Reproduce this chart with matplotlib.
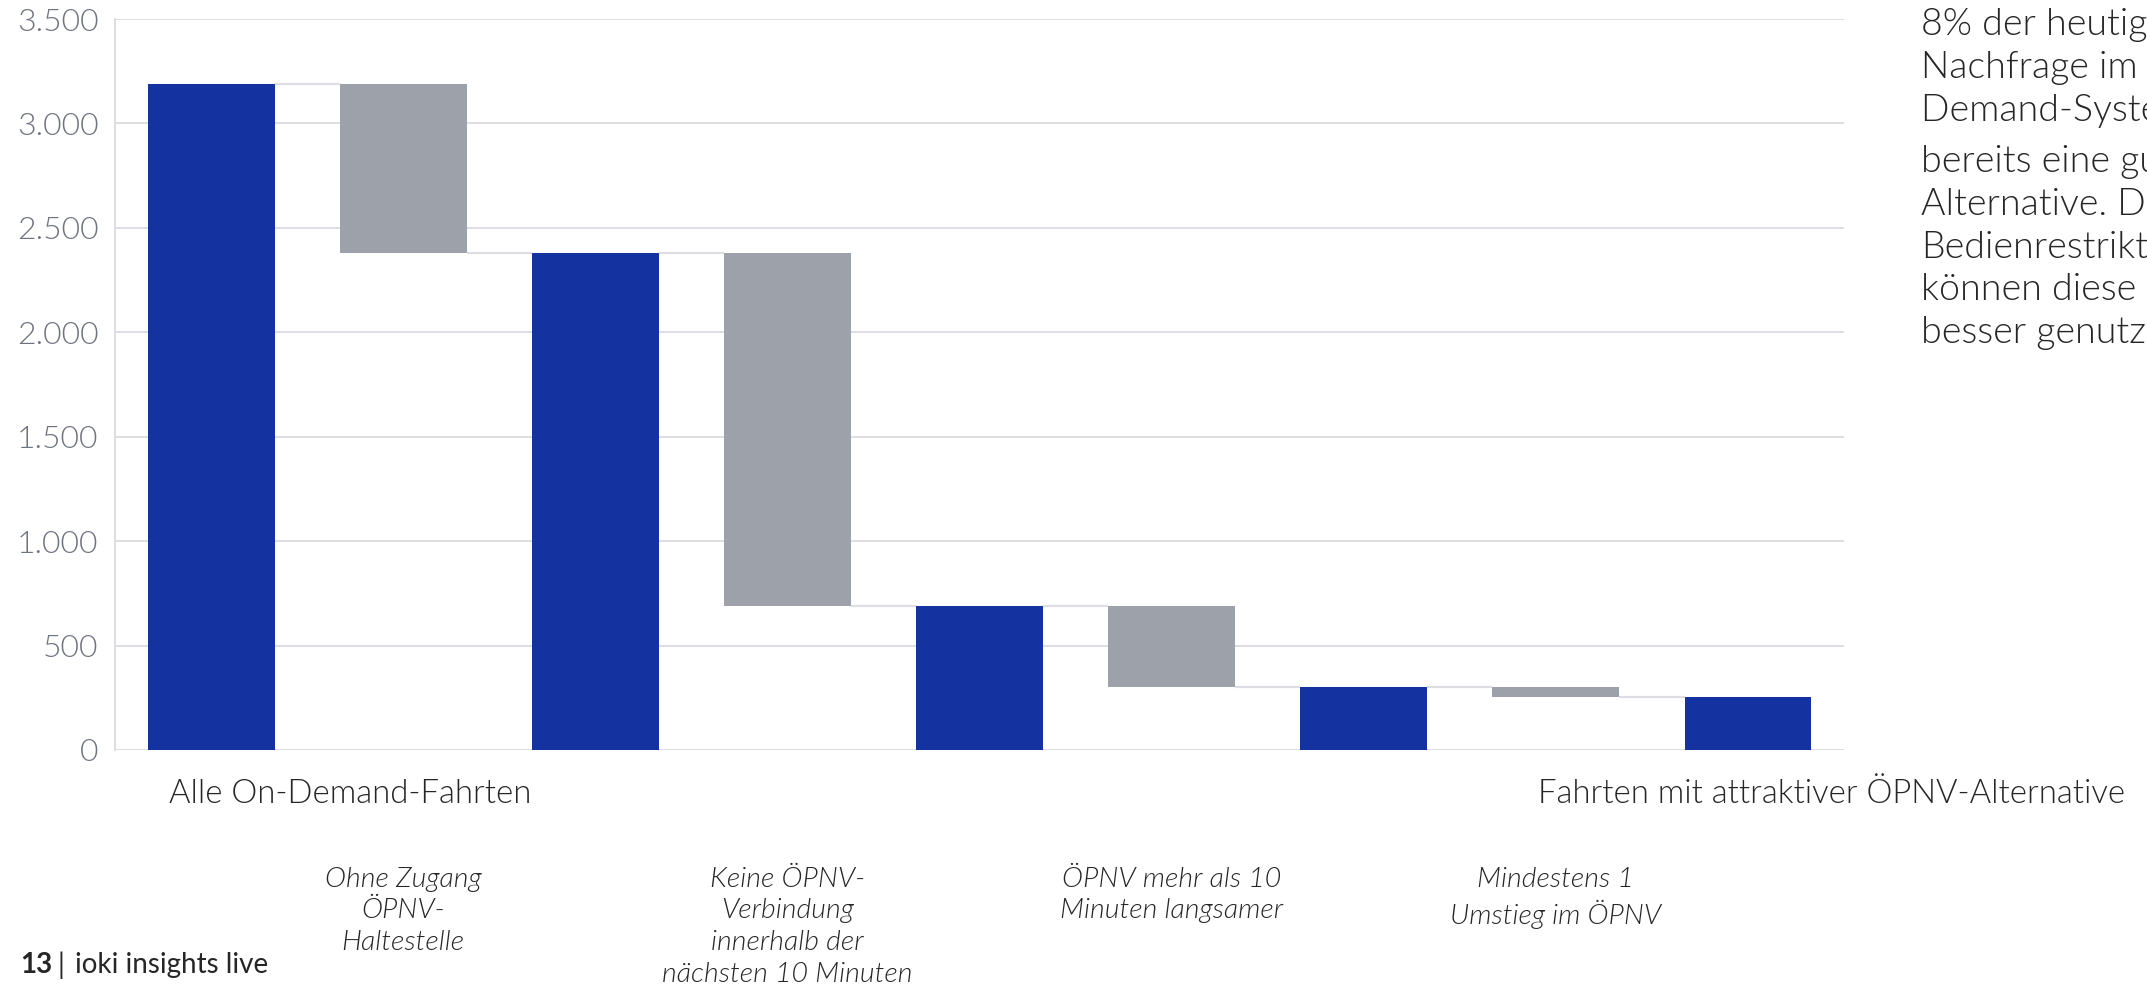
import numpy as np
import matplotlib
matplotlib.use("Agg")
import matplotlib.pyplot as plt
import matplotlib.transforms as mtransforms

####################################### DATA #######################################

# Waterfall: blue = remaining trips, grey = removed step
totals = [3190, 2380, 688, 301, 255]
step_labels = ["Ohne Zugang\nÖPNV-\nHaltestelle",
               "Keine ÖPNV-\nVerbindung\ninnerhalb der\nnächsten 10 Minuten",
               "ÖPNV mehr als 10\nMinuten langsamer",
               "Mindestens 1\nUmstieg im ÖPNV"]
first_label = "Alle On-Demand-Fahrten"
last_label = "Fahrten mit attraktiver ÖPNV-Alternative"
yticks = [0, 500, 1000, 1500, 2000, 2500, 3000, 3500]
ytick_labels = ["0", "500", "1.000", "1.500", "2.000", "2.500", "3.000", "3.500"]
side_text = ("8% der heutigen On-\nNachfrage im On-\nDemand-System haben\n"
             "bereits eine gute ÖPNV-\nAlternative. Durch\nBedienrestriktionen\n"
             "können diese Ressourcen\nbesser genutzt werden.")

BLUE = "#1533a0"
GREY = "#9da1aa"
LINE = "#dedde3"
TEXT = "#262626"

plt.rcParams['font.family'] = ['Lato', 'DejaVu Sans']

fig = plt.figure(figsize=(21.47, 9.86), dpi=100)
ax = fig.add_axes([0.0536, 0.2394, 0.8053, 0.7413])

width = 0.66
pos = 0
edges = []  # (x position, level) for connectors
for i in range(len(totals)):
    ax.bar(pos, totals[i], width=width, color=BLUE, zorder=3)
    edges.append((pos, totals[i]))
    pos += 1
    if i < len(totals) - 1:
        ax.bar(pos, totals[i] - totals[i + 1], bottom=totals[i + 1], width=width, color=GREY, zorder=3)
        edges.append((pos, totals[i + 1]))
        pos += 1

# connectors between neighbouring bars
for k in range(len(edges) - 1):
    x0, lvl = edges[k]
    x1 = edges[k + 1][0]
    if k % 2 == 0:
        lvl = totals[k // 2]
    ax.hlines(lvl, x0 + width / 2, x1 - width / 2, color=LINE, linewidth=1.6, zorder=2)

ax.set_xlim(-0.5, 8.5)
ax.set_ylim(0, 3500)
ax.set_yticks(yticks)
ax.set_yticklabels(ytick_labels, fontsize=23, color="#6e7380", fontweight=300)
ax.tick_params(axis='y', length=0, pad=12)
ax.set_xticks([])
ax.grid(axis='y', color=LINE, linewidth=1.4, zorder=0)
for s in ["top", "right", "bottom"]:
    ax.spines[s].set_visible(False)
ax.spines["left"].set_color(LINE)
ax.spines["left"].set_linewidth(1.4)

trans = mtransforms.blended_transform_factory(ax.transData, ax.transAxes)
ax.text(-0.22, -0.06, first_label, transform=trans, ha="left", va="center",
        fontsize=23.7, color=TEXT, fontweight=300)
ax.text(6.905, -0.06, last_label, transform=trans, ha="left", va="center",
        fontsize=23.7, color=TEXT, fontweight=300, clip_on=False)
for j, lab in enumerate(step_labels):
    ax.text(2 * j + 1, -0.16, lab, transform=trans, ha="center", va="top",
            fontsize=20.5, style="italic", color=TEXT, fontweight=300, linespacing=1.33)

# side note, runs off the right edge like in the original slide
fig.text(1921 / 2147, 1 - 8 / 986, side_text, ha="left", va="top", fontsize=27,
         color=TEXT, fontweight=300, linespacing=1.33)

fy = 1 - 965 / 986
fig.text(20 / 2147, fy, "13", ha="left", va="center", fontsize=20, fontweight="bold", color=TEXT)
fig.text(57 / 2147, fy, "|", ha="left", va="center", fontsize=20, color=TEXT)
fig.text(75 / 2147, fy, "ioki insights live", ha="left", va="center", fontsize=20, color=TEXT)

fig.savefig("out.png", dpi=100)
